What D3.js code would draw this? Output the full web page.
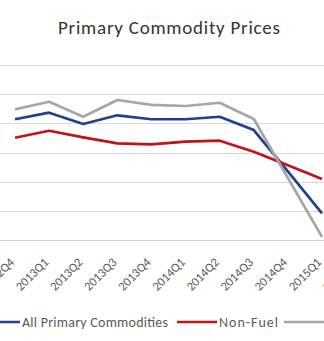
<!DOCTYPE html>
<html><head><meta charset="utf-8">
<script src="https://cdn.jsdelivr.net/npm/d3@7"></script>
<style>html,body{margin:0;padding:0;background:#fff;overflow:hidden}</style>
</head><body>
<script>
const categories = ["2012Q4","2013Q1","2013Q2","2013Q3","2013Q4","2014Q1","2014Q2","2014Q3","2014Q4","2015Q1","2015Q2"];
const allPrimary = [182.8,187.3,179.5,185.5,182.8,182.8,184.5,175.4,147.0,118.3];
const nonFuel    = [170.1,174.9,170.4,166.3,165.6,167.4,168.1,160.5,151.2,141.8];
const fuel       = [189.6,194.8,184.5,196.0,192.6,191.9,194.1,183.0,142.5,102.1];
const yTicks = [100,120,140,160,180,200,220];
const seriesNames = ["All Primary Commodities","Non-Fuel","Fuel"];
const seriesColors = ["#203F8F","#C0141A","#A6A6A6"];
const seriesData = [allPrimary, nonFuel, fuel];

const W = 324, H = 341;
const font = "Calibri, Carlito, Lato, sans-serif";
const svg = d3.select("body").append("svg").attr("width", W).attr("height", H)
  .style("background","#fff");

const step = 34.11;
const x = d3.scaleBand().domain(categories).range([15 - step/2, 15 - step/2 + step*categories.length]).padding(0);
const cx = c => x(c) + x.bandwidth()/2;
const y = d3.scaleLinear().domain([100,220]).range([240,65]);

// gridlines
svg.append("g").selectAll("line").data(yTicks).join("line")
  .attr("x1", 0).attr("x2", W)
  .attr("y1", d => Math.round(y(d)) + 0.5).attr("y2", d => Math.round(y(d)) + 0.5)
  .attr("stroke", d => d === 100 ? "#D0D0D0" : "#D9D9D9").attr("stroke-width", 1);

// x axis labels
const xAxis = d3.axisBottom(x).tickSize(0).tickPadding(0);
const gx = svg.append("g").attr("transform", "translate(0,240)").call(xAxis);
gx.select(".domain").remove();
gx.selectAll("text")
  .attr("font-family", font).attr("font-size", 12.5).attr("fill", "#595959")
  .attr("text-anchor", "end")
  .attr("transform", "translate(-3,20) rotate(-45)")
  .attr("dy", "0.35em").attr("y", 0).attr("x", 0);

// lines
const line = d3.line().x((d,i) => cx(categories[i])).y(d => y(d));
svg.append("g").selectAll("path").data(seriesData).join("path")
  .attr("d", d => line(d)).attr("fill","none")
  .attr("stroke", (d,i) => seriesColors[i]).attr("stroke-width", 2.7)
  .attr("stroke-linejoin","round");

// title
svg.append("text").attr("x", 58).attr("y", 34)
  .attr("font-family", font).attr("font-size", 19).attr("fill","#333333")
  .attr("textLength", 222).attr("lengthAdjust","spacing")
  .text("Primary Commodity Prices");

// legend
const lg = svg.append("g").attr("transform","translate(0,322)");
const legendLineX = [-20, 177, 284];
const legendTextLen = [146, 59, 32];
seriesNames.forEach((n,i) => {
  const lx = legendLineX[i];
  lg.append("line").attr("x1", lx).attr("x2", lx+40).attr("y1",0).attr("y2",0)
    .attr("stroke", seriesColors[i]).attr("stroke-width", 2.7);
  lg.append("text").attr("x", lx+42).attr("y", 0).attr("dy","0.35em")
    .attr("font-family", font).attr("font-size", 14).attr("fill","#595959")
    .attr("textLength", legendTextLen[i]).attr("lengthAdjust","spacing")
    .text(n);
});
</script>
</body></html>
